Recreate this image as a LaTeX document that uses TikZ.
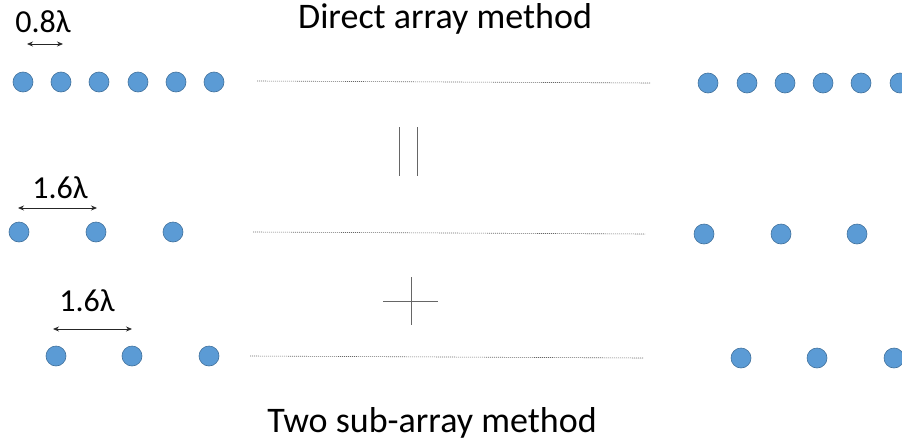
\documentclass[tikz,border=0pt]{standalone}
\usepackage{fontspec}
\setmainfont{Carlito}
\usetikzlibrary{arrows.meta}
\definecolor{dotfill}{HTML}{5B9BD5}
\definecolor{dotline}{HTML}{41719C}
\tikzset{
  elem/.style={circle, fill=dotfill, draw=dotline, line width=0.6pt, minimum size=20pt, inner sep=0pt},
  title/.style={anchor=base, font=\fontsize{36}{40}\selectfont, inner sep=0pt},
  lab/.style={anchor=base, font=\fontsize{32}{36}\selectfont, inner sep=0pt},
  dim/.style={{Stealth[length=6pt,width=5pt]}-{Stealth[length=6pt,width=5pt]}, line width=0.8pt, black!85},
  dots/.style={draw=black!60, line width=0.6pt, dash pattern=on 1.2pt off 0.8pt},
  sym/.style={draw=black!60, line width=1pt}
}
\begin{document}
\begin{tikzpicture}[x=1pt,y=-1pt]
\useasboundingbox (0,0) rectangle (902,442);
% titles
\node[title] (t1) at (445,28) {Direct array method};
\node[title] (t2) at (432,432) {Two sub-array method};
% row 1
\foreach \x [count=\i] in {23,61,99,138,176,214} \node[elem] (a\i) at (\x,82) {};
\foreach \x [count=\i] in {708,747,785,823,861,900} \node[elem] (ra\i) at (\x,83) {};
\coordinate (l1s) at (257,81); \coordinate (l1e) at (650,83);
\draw[dots] (l1s) -- (l1e);
\node[lab] (d1) at (43,32) {0.8λ};
\coordinate (d1a) at (27,44); \coordinate (d1b) at (63,44);
\draw[dim] (d1a) -- (d1b);
% row 2
\foreach \x [count=\i] in {19,96,173} \node[elem] (b\i) at (\x,232) {};
\foreach \x [count=\i] in {704,781,857} \node[elem] (rb\i) at (\x,234) {};
\coordinate (l2s) at (253,232); \coordinate (l2e) at (645,234);
\draw[dots] (l2s) -- (l2e);
\node[lab] (d2) at (60,198) {1.6λ};
\coordinate (d2a) at (18,208); \coordinate (d2b) at (97,208);
\draw[dim] (d2a) -- (d2b);
% row 3
\foreach \x [count=\i] in {56,132,209} \node[elem] (c\i) at (\x,356) {};
\foreach \x [count=\i] in {741,817,894} \node[elem] (rc\i) at (\x,358) {};
\coordinate (l3s) at (250,356); \coordinate (l3e) at (643,358);
\draw[dots] (l3s) -- (l3e);
\node[lab] (d3) at (87,311) {1.6λ};
\coordinate (d3a) at (53,329); \coordinate (d3b) at (132,329);
\draw[dim] (d3a) -- (d3b);
% parallel sign
\coordinate (p1a) at (399,127); \coordinate (p1b) at (399,176);
\coordinate (p2a) at (417,127); \coordinate (p2b) at (417,176);
\draw[sym] (p1a) -- (p1b);
\draw[sym] (p2a) -- (p2b);
% plus sign
\coordinate (pva) at (411,277); \coordinate (pvb) at (411,325);
\coordinate (pha) at (383,301); \coordinate (phb) at (438,301);
\draw[sym] (pva) -- (pvb);
\draw[sym] (pha) -- (phb);
\end{tikzpicture}
\end{document}
